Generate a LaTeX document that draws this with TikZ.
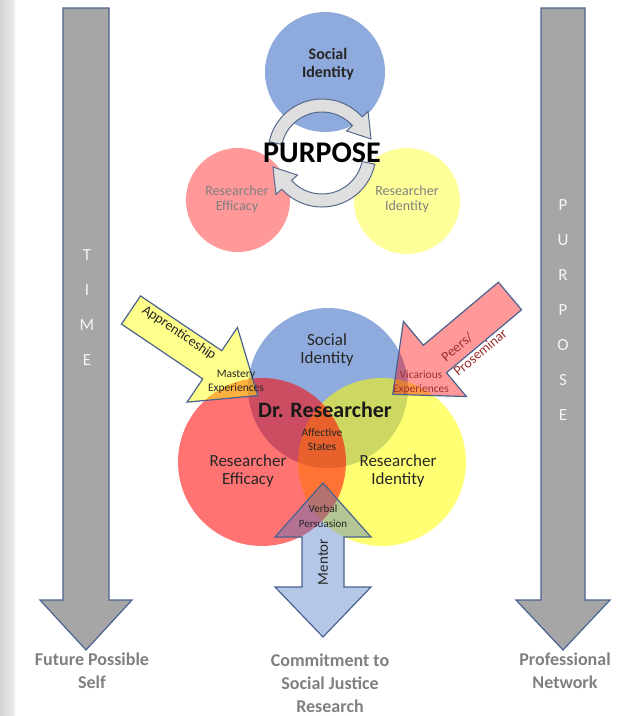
\documentclass[tikz,border=0pt]{standalone}
\usepackage{fontspec}
\setmainfont{Carlito}
\usetikzlibrary{positioning,calc}

\definecolor{edgeblue}{HTML}{4A6290}
\definecolor{bargray}{HTML}{A6A6A6}
\definecolor{accblue}{HTML}{4472C4}
\definecolor{accred}{HTML}{FF0000}
\definecolor{accyellow}{HTML}{FFFF00}
\definecolor{labelgray}{HTML}{7F7F7F}
\definecolor{darktext}{HTML}{262626}
\definecolor{peerred}{HTML}{9E2F2F}

\tikzset{
  timebar/.style={fill=bargray, draw=edgeblue, line width=1.2pt, line join=miter},
  apprarrow/.style={fill=accyellow, fill opacity=.45, draw=edgeblue, line width=1.2pt, line join=miter},
  peerarrow/.style={fill=accred, fill opacity=.4, draw=edgeblue, line width=1.2pt, line join=miter},
  mentorarrow/.style={fill=accblue, fill opacity=.4, draw=edgeblue, line width=1.2pt, line join=miter},
  ring/.style={fill=gray!25, draw=edgeblue!80!gray, line width=1pt, line join=miter},
  barletter/.style={font=\fontsize{17}{17}\selectfont, text=white!92!gray},
  bottomlabel/.style={font=\fontsize{18}{23}\selectfont\bfseries, text=labelgray, align=center},
  topbold/.style={font=\fontsize{16}{18}\selectfont\bfseries, text=darktext, align=center},
  toplabel/.style={font=\fontsize{14}{15}\selectfont, text=labelgray, align=center},
  venntext/.style={font=\fontsize{17}{18}\selectfont, text=darktext, align=center},
  smalltext/.style={font=\fontsize{11.5}{14}\selectfont, text=darktext, align=center},
}

\begin{document}
\begin{tikzpicture}[x=1pt,y=-1pt]
    \useasboundingbox (0,0) rectangle (626,716);
    \fill[left color=gray!35, right color=gray!12] (0,0) rectangle (15,716);
    % top: the three parts round the purpose cycle
    \fill[accblue, fill opacity=.6] (325,72) circle (60);
    \fill[accred, fill opacity=.4] (238,200) circle (52);
    \fill[accyellow, fill opacity=.4] (407,201) circle (53);
    \node[topbold] (socialtop) at (328,64) {Social\\Identity};
    \node[toplabel] (efficacytop) at (237,199) {Researcher\\Efficacy};
    \node[toplabel] (identitytop) at (407,199) {Researcher\\Identity};
    \coordinate (C) at (322,153);
    \foreach \s in {0,180}
    {
        \filldraw[ring] ($(C)+({\s-168}:54)$) arc[start angle={\s-168}, end angle={\s-42}, radius=54]
            -- ($(C)+({\s-42}:62)$) -- ($(C)+({\s-16}:51)$) -- ($(C)+({\s-42}:33)$) -- ($(C)+({\s-42}:41)$)
            arc[start angle={\s-42}, end angle={\s-168}, radius=41] -- cycle;
    }
    \node[font=\fontsize{30}{30}\selectfont\bfseries] (purpose) at (C) {PURPOSE};
    % bottom: Dr. Researcher
    \fill[accblue, fill opacity=.6] (328,388) circle (80);
    \fill[accyellow, fill opacity=.55] (382,462) circle (84);
    \fill[accred, fill opacity=.55] (262,462) circle (84);
    \node[venntext] (sociallow) at (327,350) {Social\\Identity};
    \node[venntext] (efficacylow) at (248,471) {Researcher\\Efficacy};
    \node[venntext] (identitylow) at (398,471) {Researcher\\Identity};
    \node[font=\fontsize{22}{22}\selectfont\bfseries, text=black!90] (drres) at (325,410) {Dr. Researcher};
    \node[smalltext] (affect) at (322,440) {Affective\\States};
    % block arrows: tail x/tail y/angle/length/shaft/head/head length/style
    \foreach \tx/\ty/\a/\L/\w/\h/\hl/\st in {86/8/90/642/23/46/50/timebar, 563/8/90/642/22/47/50/timebar,
        131/310/34/153/17/45/55/apprarrow, 510/296/140/153/18/49/55/peerarrow}
    {
        \draw[\st] ($(\tx,\ty)+({\a+90}:\w)$) -- ($(\tx,\ty)+(\a:{\L-\hl})+({\a+90}:\w)$)
            -- ($(\tx,\ty)+(\a:{\L-\hl})+({\a+90}:\h)$) -- ($(\tx,\ty)+(\a:\L)$)
            -- ($(\tx,\ty)+(\a:{\L-\hl})+({\a-90}:\h)$) -- ($(\tx,\ty)+(\a:{\L-\hl})+({\a-90}:\w)$)
            -- ($(\tx,\ty)+({\a-90}:\w)$) -- cycle;
    }
    \draw[mentorarrow] (323,483) -- (371,537) -- (344,537) -- (344,587) -- (371,587) -- (323,637)
        -- (275,587) -- (302,587) -- (302,537) -- (275,537) -- cycle;
    \foreach \ch [count=\i] in {T,I,M,E}
        \node[barletter] (time\i) at (87,{220+35*\i}) {\ch};
    \foreach \ch [count=\i] in {P,U,R,P,O,S,E}
        \node[barletter] (purp\i) at (563,{170+35*\i}) {\ch};
    \node[font=\fontsize{14}{16}\selectfont, text=darktext, rotate=-34] (appr) at (179,333) {Apprenticeship};
    \node[smalltext] (mastery) at (236,382) {Mastery\\Experiences};
    \node[font=\fontsize{14}{19}\selectfont, text=peerred, rotate=40, align=left] (peers) at (474,345) {Peers/\\Proseminar};
    \node[smalltext, text=peerred] (vicar) at (421,382) {Vicarious\\Experiences};
    \node[font=\fontsize{15}{15}\selectfont, text=darktext, rotate=90] (mentor) at (323,562) {Mentor};
    \node[smalltext, font=\fontsize{11}{15}\selectfont] (verbal) at (323,516) {Verbal\\Persuasion};
    % outcomes
    \node[bottomlabel] (future) at (92,671) {Future Possible\\Self};
    \node[bottomlabel] (commit) at (330,683) {Commitment to\\Social Justice\\Research};
    \node[bottomlabel] (network) at (565,671) {Professional\\Network};
\end{tikzpicture}
\end{document}
